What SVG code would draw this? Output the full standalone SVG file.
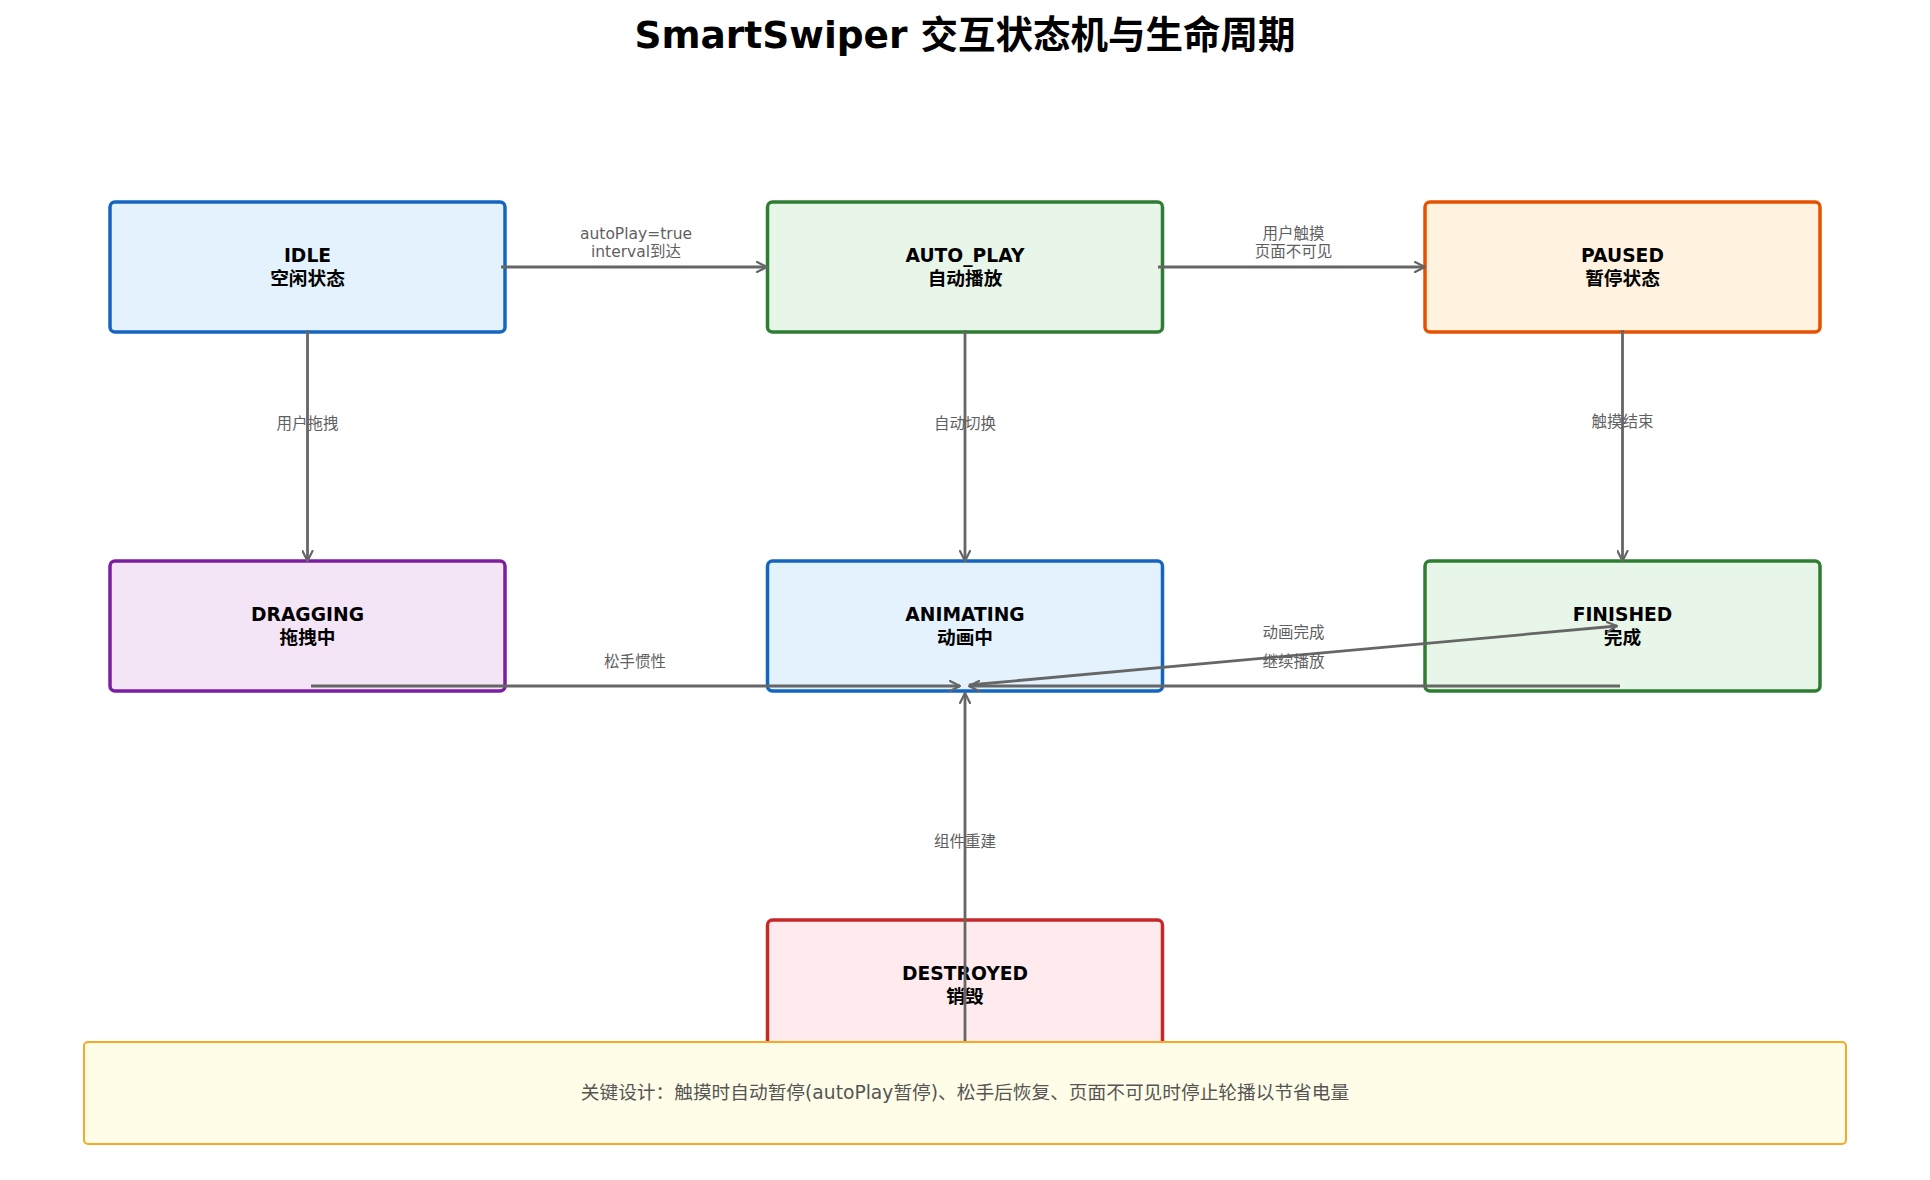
<svg xmlns="http://www.w3.org/2000/svg" width="1930" height="1180" viewBox="0 0 1930 1180">
<defs>
<marker id="arr" viewBox="0 0 12 12" refX="11" refY="6" markerWidth="12" markerHeight="12" markerUnits="userSpaceOnUse" orient="auto">
<path d="M1,1 L11,6 L1,11" fill="none" stroke="#666" stroke-width="2.2" stroke-linecap="round" stroke-linejoin="round"/>
</marker>
</defs>
<style>
text{font-family:"DejaVu Sans","Noto Sans CJK SC",sans-serif;text-anchor:middle}
.title{font-size:37.5px;font-weight:bold;fill:#000}
.nt{font-size:18.7px;font-weight:bold;fill:#000}
.el{font-size:15.5px;fill:#5f5f5f}
.node rect{stroke-width:3.5}
.edge{stroke:#666;stroke-width:2.8;fill:none;marker-end:url(#arr)}
.note{font-size:18.7px;fill:#555}
</style>
<rect width="1930" height="1180" fill="#fff"/>
<text class="title" x="965" y="48">SmartSwiper 交互状态机与生命周期</text>

<g id="IDLE" class="node"><rect x="110" y="202" width="395" height="130" rx="5" fill="#E3F2FD" stroke="#1565C0"/><text class="nt" x="307.5" y="262">IDLE</text><text class="nt" x="307.5" y="285">空闲状态</text></g>
<g id="AUTO_PLAY" class="node"><rect x="767.5" y="202" width="395" height="130" rx="5" fill="#E8F5E9" stroke="#2E7D32"/><text class="nt" x="965" y="262">AUTO_PLAY</text><text class="nt" x="965" y="285">自动播放</text></g>
<g id="PAUSED" class="node"><rect x="1425" y="202" width="395" height="130" rx="5" fill="#FFF3E0" stroke="#E65100"/><text class="nt" x="1622.5" y="262">PAUSED</text><text class="nt" x="1622.5" y="285">暂停状态</text></g>
<g id="DRAGGING" class="node"><rect x="110" y="561" width="395" height="130" rx="5" fill="#F3E5F5" stroke="#7B1FA2"/><text class="nt" x="307.5" y="621">DRAGGING</text><text class="nt" x="307.5" y="644">拖拽中</text></g>
<g id="ANIMATING" class="node"><rect x="767.5" y="561" width="395" height="130" rx="5" fill="#E3F2FD" stroke="#1565C0"/><text class="nt" x="965" y="621">ANIMATING</text><text class="nt" x="965" y="644">动画中</text></g>
<g id="FINISHED" class="node"><rect x="1425" y="561" width="395" height="130" rx="5" fill="#E8F5E9" stroke="#2E7D32"/><text class="nt" x="1622.5" y="621">FINISHED</text><text class="nt" x="1622.5" y="644">完成</text></g>
<g id="DESTROYED" class="node"><rect x="767.5" y="920" width="395" height="130" rx="5" fill="#FFEBEE" stroke="#C62828"/><text class="nt" x="965" y="980">DESTROYED</text><text class="nt" x="965" y="1003">销毁</text></g>

<g id="connectors">
<path class="edge" d="M501,267 L767,267"/>
<text class="el" x="636" y="239">autoPlay=true</text><text class="el" x="636" y="257">interval到达</text>
<path class="edge" d="M1158,267 L1425,267"/>
<text class="el" x="1293.5" y="239">用户触摸</text><text class="el" x="1293.5" y="257">页面不可见</text>
<path class="edge" d="M307.5,330 L307.5,561"/>
<text class="el" x="307.5" y="429">用户拖拽</text>
<path class="edge" d="M965,330 L965,561"/>
<text class="el" x="965" y="429">自动切换</text>
<path class="edge" d="M1622.5,330 L1622.5,561"/>
<text class="el" x="1622.5" y="427">触摸结束</text>
<path class="edge" d="M311,686 L960,686"/>
<text class="el" x="635" y="667">松手惯性</text>
<path class="edge" d="M969,685 L1617,626"/>
<text class="el" x="1293.5" y="638">动画完成</text>
<path class="edge" d="M1620,686 L969,686"/>
<text class="el" x="1293.5" y="667">继续播放</text>
<path class="edge" d="M965,1045 L965,693"/>
<text class="el" x="965" y="847">组件重建</text>
</g>

<g id="note"><rect x="84" y="1042" width="1762" height="102" rx="4" fill="#FFFDE7" stroke="#F9A825" stroke-width="2"/><text class="note" x="965" y="1099">关键设计：触摸时自动暂停(autoPlay暂停)、松手后恢复、页面不可见时停止轮播以节省电量</text></g>
</svg>
